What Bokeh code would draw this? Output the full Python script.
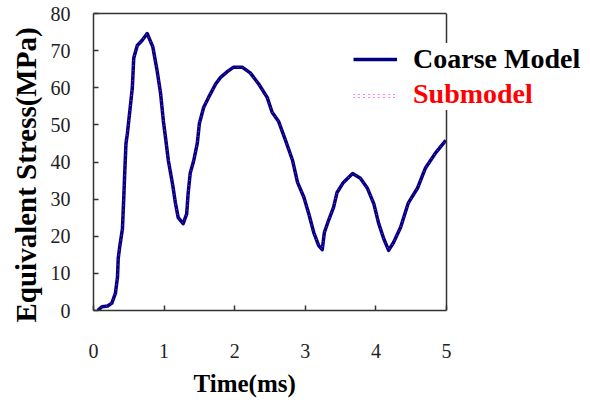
from bokeh.plotting import figure
from bokeh.models import (Range1d, FixedTicker, Legend, LegendItem, Title,
                          LinearAxis, Span)
from bokeh.embed import file_html
from bokeh.resources import INLINE

# ---- data ----
time_ms = [0.06, 0.12, 0.20, 0.26, 0.31, 0.34, 0.35, 0.37, 0.41, 0.43, 0.44, 0.46,
           0.48, 0.52, 0.55, 0.57, 0.62, 0.69, 0.76, 0.84, 0.90, 0.95, 0.99, 1.02,
           1.06, 1.12, 1.16, 1.20, 1.27, 1.32, 1.34, 1.37, 1.42, 1.47, 1.50, 1.56,
           1.63, 1.73, 1.80, 1.90, 1.98, 2.11, 2.22, 2.34, 2.46, 2.53, 2.62, 2.72,
           2.82, 2.89, 2.98, 3.05, 3.12, 3.19, 3.24, 3.27, 3.33, 3.40, 3.45, 3.54,
           3.67, 3.78, 3.88, 3.97, 4.04, 4.11, 4.18, 4.25, 4.35, 4.46, 4.59, 4.70,
           4.84, 4.99]
coarse_mpa = [0.0, 1.0, 1.2, 2.0, 4.6, 9.0, 14.0, 17.0, 22.0, 31.0, 36.0, 45.0,
              47.7, 54.7, 60.0, 68.0, 71.4, 72.8, 74.6, 71.0, 64.7, 58.5, 51.0, 46.6,
              40.4, 34.0, 29.0, 25.0, 23.4, 26.0, 31.5, 37.0, 40.4, 45.0, 50.4, 54.7,
              57.4, 61.0, 62.8, 64.4, 65.5, 65.5, 64.0, 61.0, 57.4, 53.4, 51.0, 45.8,
              40.4, 34.5, 30.5, 26.0, 21.0, 17.5, 16.4, 21.0, 24.3, 27.8, 31.8, 34.5,
              36.9, 35.6, 32.9, 28.8, 23.4, 19.4, 16.2, 18.3, 22.4, 29.0, 33.0, 38.3,
              42.3, 45.8]
submodel_mpa = [0.0, 1.0, 1.2, 2.0, 4.6, 9.0, 14.0, 17.0, 22.0, 31.0, 36.0, 45.0,
                47.7, 54.7, 60.0, 68.0, 71.4, 72.8, 74.6, 71.0, 64.7, 58.5, 51.0, 46.6,
                40.4, 34.0, 29.0, 25.0, 23.4, 26.0, 31.5, 37.0, 40.4, 45.0, 50.4, 54.7,
                57.4, 61.0, 62.8, 64.4, 65.5, 65.5, 64.0, 61.0, 57.4, 53.4, 51.0, 45.8,
                40.4, 34.5, 30.5, 26.0, 21.0, 17.5, 16.4, 21.0, 24.3, 27.8, 31.8, 34.5,
                36.9, 35.6, 32.9, 28.8, 23.4, 19.4, 16.2, 18.3, 22.4, 29.0, 33.0, 38.3,
                42.3, 45.8]
x_ticks = [0, 1, 2, 3, 4, 5]
y_ticks = [0, 10, 20, 30, 40, 50, 60, 70, 80]
x_lim = (0, 5)
y_lim = (0, 80)
series_names = ["Coarse Model", "Submodel"]
x_title = "Time(ms)"
y_title = "Equivalent Stress(MPa)"

SERIF = "Liberation Serif"
AX = "#333333"

# layout (pixels)
W, H = 590, 410
FL, FT, FR, FB = 93, 13, 446, 310      # plotted box edges
# frame is extended to the right edge so the legend can sit over the box border
x_end = x_lim[0] + (x_lim[1] - x_lim[0]) * (W - FL) / (FR - FL)

p = figure(width=W, height=H, output_backend="svg", toolbar_location=None,
           x_range=Range1d(x_lim[0], x_end), y_range=Range1d(*y_lim),
           min_border_left=FL, min_border_right=0, min_border_top=FT,
           min_border_bottom=H - FB, background_fill_color="white",
           border_fill_color="white")

p.grid.visible = False
p.outline_line_color = None

xa = p.below[0]
ya = p.left[0]
top_axis = LinearAxis(ticker=FixedTicker(ticks=[]), bounds=x_lim)
p.add_layout(top_axis, "above")

for ax in (xa, ya, top_axis):
    ax.axis_line_color = AX
    ax.axis_line_width = 1.5
    ax.major_tick_line_color = AX
    ax.major_tick_line_width = 1.5
    ax.major_tick_in = 5
    ax.major_tick_out = 0
    ax.minor_tick_in = 0
    ax.minor_tick_out = 0
    ax.major_label_text_font = SERIF
    ax.major_label_text_font_size = "20px"
    ax.major_label_text_color = "#222222"

xa.ticker = FixedTicker(ticks=x_ticks)
xa.bounds = x_lim
ya.ticker = FixedTicker(ticks=y_ticks)
xa.major_label_standoff = 33
ya.major_label_standoff = 23

# right border of the plotted box
p.add_layout(Span(location=x_lim[1], dimension="height", line_color=AX,
                  line_width=1.5))

r1 = p.line(time_ms, coarse_mpa, line_color="#00007f", line_width=3.5,
            line_join="round")
r2 = p.line(time_ms, submodel_mpa, line_color="#ff00ff", line_width=1.0,
            line_dash="1 4")

leg_common = dict(location=(260, 200), margin=0, padding=15, spacing=9,
                  glyph_width=44, glyph_height=26, label_height=26,
                  label_standoff=16, border_line_color=None,
                  label_text_font=SERIF, label_text_font_style="bold",
                  label_text_font_size="28px")

leg_bg = Legend(items=[LegendItem(label=series_names[0], renderers=[r1]),
                       LegendItem(label=" ", renderers=[r2])],
                background_fill_color="white", background_fill_alpha=1.0,
                label_text_color="black", **leg_common)
leg_fg = Legend(items=[LegendItem(label=series_names[1], renderers=[r2])],
                background_fill_alpha=0.0, label_text_color="red", **leg_common)
p.add_layout(leg_bg, "center")
p.add_layout(leg_fg, "center")

xt = Title(text=x_title, align="left", offset=100, text_font=SERIF,
           text_font_style="bold", text_font_size="25px", text_color="black",
           standoff=14)
yt = Title(text=y_title, align="left", offset=-12, text_font=SERIF,
           text_font_style="bold", text_font_size="29px", text_color="black",
           standoff=11)
p.add_layout(xt, "below")
p.add_layout(yt, "left")

open("out.html", "w").write(file_html(p, INLINE))
